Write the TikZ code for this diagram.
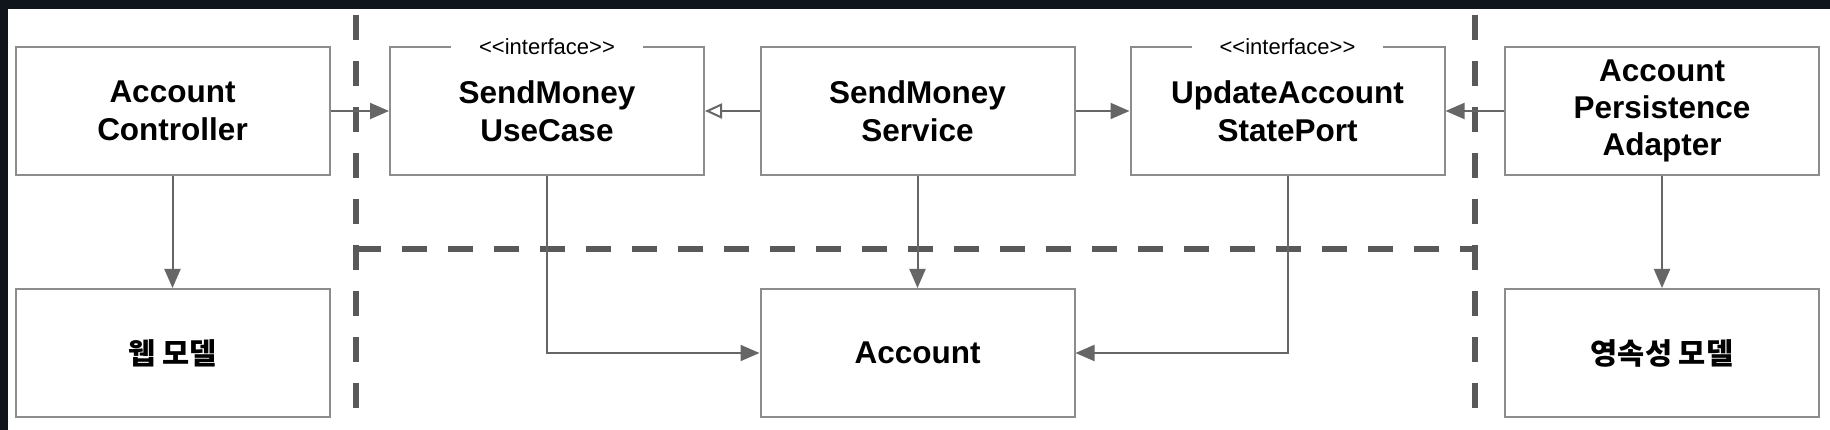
\documentclass[tikz,border=0pt]{standalone}
\usepackage{fontspec}
\setmainfont{Liberation Sans}
\newfontfamily\krfont{Noto Sans CJK KR}
\newfontfamily\stereofont[Ligatures=NoCommon]{Liberation Sans}
\usetikzlibrary{arrows.meta}
\definecolor{darkframe}{HTML}{10141B}
\definecolor{boxgray}{HTML}{8C8C8C}
\definecolor{linegray}{HTML}{666666}
\definecolor{sepgray}{HTML}{595959}
\tikzset{
  box/.style={draw=boxgray, line width=2pt, minimum width=314pt, minimum height=128pt,
    inner sep=0pt, align=center, text=black,
    font=\fontsize{31.5pt}{38pt}\selectfont\bfseries},
  krbox/.style={box, font=\fontsize{29.5pt}{34pt}\selectfont\krfont\bfseries},
  stereo/.style={fill=white, inner xsep=28pt, inner ysep=2pt, text=black,
    font=\fontsize{22pt}{25pt}\selectfont\stereofont},
  conn/.style={draw=linegray, line width=2pt},
  filltip/.style={-{Triangle[length=19pt,width=16pt]}},
  opentip/.style={-{Triangle[open,length=17pt,width=15pt,fill=white]}},
  sep/.style={draw=sepgray, line width=6pt, dash pattern=on 25pt off 21pt}
}
\begin{document}
\begin{tikzpicture}[x=1pt,y=-1pt]
\useasboundingbox (0,0) rectangle (1830,430);
\fill[darkframe] (0,0) rectangle (1830,430);
\fill[white] (8,9) rectangle (1830,430);

% separators
\coordinate (s1t) at (356,15);
\coordinate (s1b) at (356,408);
\coordinate (s2t) at (1475,15);
\coordinate (s2b) at (1475,408);
\coordinate (hl) at (356,249);
\coordinate (hr) at (1475,249);
\draw[sep] (s1t) -- (s1b);
\draw[sep] (s2t) -- (s2b);
\draw[sep] (hl) -- (hr);

% boxes
\node[box] (ac)   at (172.5,111) {Account\\Controller};
\node[box] (uc)   at (547,111)   {SendMoney\\UseCase};
\node[box] (svc)  at (917.5,111) {SendMoney\\Service};
\node[box] (port) at (1287.5,111){UpdateAccount\\StatePort};
\node[box,font=\fontsize{31.5pt}{37pt}\selectfont\bfseries] (pa) at (1662,111) {Account\\Persistence\\Adapter};
\node[krbox] (web) at (172.5,353) {웹 모델};
\node[box] (acc)  at (917.5,353) {Account};
\node[krbox] (pm)  at (1662,353)  {영속성 모델};

% stereotypes
\node[stereo] (ucst) at ([yshift=-0.5pt]uc.north) {<{}<interface>{}>};
\node[stereo] (portst) at ([yshift=-0.5pt]port.north) {<{}<interface>{}>};

% connectors
\draw[conn, filltip] (ac) -- (uc);
\draw[conn, opentip] (svc) -- (uc);
\draw[conn, filltip] (svc) -- (port);
\draw[conn, filltip] (pa) -- (port);
\draw[conn, filltip] (ac) -- (web);
\draw[conn, filltip] (svc) -- (acc);
\draw[conn, filltip] (pa) -- (pm);
\draw[conn, filltip] (uc.south) |- (acc.west);
\draw[conn, filltip] (port.south) |- (acc.east);
\end{tikzpicture}
\end{document}
